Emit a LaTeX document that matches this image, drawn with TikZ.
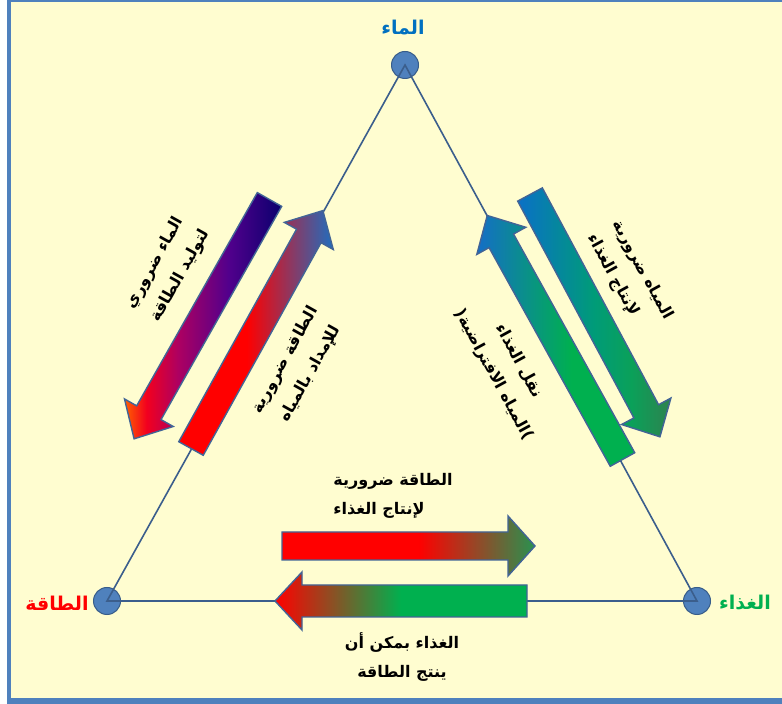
\documentclass[tikz,border=0pt]{standalone}
\usepackage{fontspec}
\newfontfamily\arabicfont[Script=Arabic]{DejaVu Sans}
\TeXXeTstate=1
\newcommand\rtltext[1]{\beginR #1\endR}

\definecolor{framebg}{RGB}{255,253,208}
\definecolor{frameblue}{RGB}{79,129,189}
\definecolor{edgeblue}{RGB}{59,94,140}
\definecolor{dotblue}{RGB}{79,129,189}
\definecolor{dotrim}{RGB}{56,93,138}
\definecolor{rimblue}{RGB}{66,100,150}
\definecolor{waterblue}{RGB}{0,112,192}
\definecolor{foodgreen}{RGB}{0,176,80}

% gradients along the local x axis of each arrow (25bp .. 75bp);
% arrows turned by more than 90 degrees get their shading mirrored,
% so those gradients are written from tip to tail
\pgfdeclarehorizontalshading{waterToEnergy}{100bp}{%
  rgb(0bp)=(1,0.38,0); rgb(25bp)=(1,0.38,0); rgb(32bp)=(0.95,0,0.12);
  rgb(42bp)=(0.68,0,0.38); rgb(58bp)=(0.32,0,0.55); rgb(75bp)=(0.04,0,0.43);
  rgb(100bp)=(0.04,0,0.43)}
\pgfdeclarehorizontalshading{energyToWater}{100bp}{%
  rgb(0bp)=(1,0,0); rgb(47bp)=(1,0,0); rgb(75bp)=(0.12,0.43,0.75);
  rgb(100bp)=(0.12,0.43,0.75)}
\pgfdeclarehorizontalshading{waterToFood}{100bp}{%
  rgb(0bp)=(0.04,0.44,0.78); rgb(25bp)=(0.04,0.44,0.78); rgb(50bp)=(0,0.61,0.47);
  rgb(62bp)=(0.04,0.63,0.35); rgb(75bp)=(0.18,0.51,0.31); rgb(100bp)=(0.18,0.51,0.31)}
\pgfdeclarehorizontalshading{foodToWater}{100bp}{%
  rgb(0bp)=(0.08,0.43,0.78); rgb(25bp)=(0.08,0.43,0.78); rgb(55bp)=(0,0.69,0.31);
  rgb(100bp)=(0,0.69,0.31)}
\pgfdeclarehorizontalshading{energyToFood}{100bp}{%
  rgb(0bp)=(1,0,0); rgb(52bp)=(1,0,0); rgb(75bp)=(0.16,0.57,0.31);
  rgb(100bp)=(0.16,0.57,0.31)}
\pgfdeclarehorizontalshading{foodToEnergy}{100bp}{%
  rgb(0bp)=(1,0,0); rgb(25bp)=(1,0,0); rgb(50bp)=(0,0.69,0.31);
  rgb(100bp)=(0,0.69,0.31)}

% block arrow: tail x, tail y, angle, length, shaft width, head width, head length, shading
\newcommand\fatarrow[8]{%
  \begin{scope}[shift={(#1,#2)}, rotate=#3]
    \shadedraw[arrowrim, shading=#8]
      (0,-#5/2) -- (#4-#7,-#5/2) -- (#4-#7,-#6/2) -- (#4,0)
      -- (#4-#7,#6/2) -- (#4-#7,#5/2) -- (0,#5/2) -- cycle;
  \end{scope}}

\begin{document}
\begin{tikzpicture}[x=1pt, y=1pt,
  vertexdot/.style={circle, minimum size=27pt, inner sep=0pt, fill=dotblue,
    draw=dotrim, line width=1pt},
  edge/.style={draw=edgeblue, line width=1.6pt},
  arrowrim/.style={draw=rimblue, line width=1.4pt, line join=miter},
  note/.style={font=\arabicfont\bfseries\fontsize{16}{28.5}\selectfont,
    text=black, inner sep=0pt},
  corner/.style={font=\arabicfont\bfseries\fontsize{19}{21}\selectfont,
    inner sep=0pt}]

  % page and frame
  \useasboundingbox (0,0) rectangle (782,704);
  \fill[white] (0,0) rectangle (782,704);
  \fill[frameblue] (7,0) rectangle (782,704);
  \fill[framebg] (11,6) rectangle (782,702);

  % the three vertices
  \node[vertexdot] (water)  at (405,639) {};
  \node[vertexdot] (energy) at (107,103) {};
  \node[vertexdot] (food)   at (697,103) {};
  \draw[edge] (water.center) -- (energy.center) -- (food.center) -- cycle;

  \node[corner, text=waterblue] (waterlbl)  at (403,676) {\rtltext{الماء}};
  \node[corner, text=red]       (energylbl) at (57,101)  {\rtltext{الطاقة}};
  \node[corner, text=foodgreen] (foodlbl)   at (745,101) {\rtltext{الغذاء}};

  % water -- energy side
  \fatarrow{269.5}{504.5}{240.5}{275}{28}{56}{30}{waterToEnergy}
  \fatarrow{191}{255.5}{61}{272}{28}{56}{29}{energyToWater}
  % water -- food side
  \fatarrow{530}{509.5}{-61.8}{275}{28}{56}{29}{waterToFood}
  \fatarrow{622.5}{244.5}{119}{279}{28}{56}{29}{foodToWater}
  % energy -- food side
  \fatarrow{282}{158}{0}{253}{28}{60}{27}{energyToFood}
  \fatarrow{527}{103}{180}{252}{32}{58}{27}{foodToEnergy}

  % captions
  \node[note, rotate=60.8, align=left] (t1) at (168,435)
    {\rtltext{الماء ضروري}\\\rtltext{لتوليد الطاقة}};
  \node[note, rotate=60.8, align=center] (t2) at (298,337)
    {\rtltext{الطاقة ضرورية}\\\rtltext{للإمداد بالمياه}};
  \node[note, rotate=-61.3, align=left] (t3) at (630,427)
    {\rtltext{المياه ضرورية}\\\rtltext{لإنتاج الغذاء}};
  \node[note, rotate=-61.3, align=center] (t4) at (506,336)
    {\rtltext{نقل الغذاء}\\\rtltext{\hbox{)}المياه الافتراضية\hbox{(}}};
  \node[note, align=left] (t5) at (393,208)
    {\rtltext{الطاقة ضرورية}\\\rtltext{لإنتاج الغذاء}};
  \node[note, align=center] (t6) at (402,47)
    {\rtltext{الغذاء بمكن أن}\\\rtltext{ينتج الطاقة}};
\end{tikzpicture}
\end{document}
